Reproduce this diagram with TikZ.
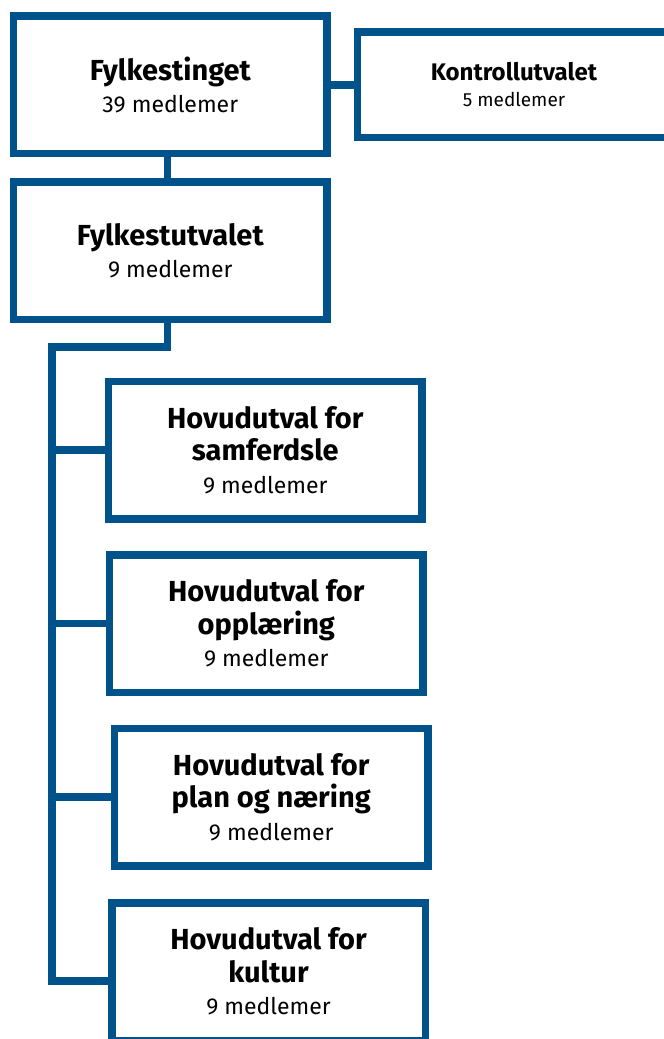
\documentclass[tikz,border=0pt]{standalone}
\usepackage{fontspec}
\setmainfont{Fira Sans}
\definecolor{fkblue}{RGB}{0,83,138}
\newcommand{\tittel}{\fontsize{29}{32.5}\selectfont\bfseries}
\newcommand{\medl}{\fontsize{23}{32.5}\selectfont\mdseries}
\tikzset{
  utvalbox/.style={draw=fkblue, line width=7.5pt, rectangle, minimum width=313.5pt, minimum height=137.5pt, inner sep=0pt, align=center, text=black, font=\tittel},
  linje/.style={draw=fkblue, line width=7.5pt},
}
\begin{document}
\begin{tikzpicture}[x=1pt, y=-1pt]
    \useasboundingbox (0,0) rectangle (664,1039);
    \clip (0,0) rectangle (664,1039);

    % --- fylkestinget og kontrollutvalet ---
    \node[utvalbox] (ting) at (170.3,84.8) {Fylkestinget\\\medl 39 medlemer};
    \node[utvalbox, minimum height=105.7pt, font=\fontsize{24}{26}\selectfont\bfseries] (kontroll) at (514,84.8)
        {Kontrollutvalet\\\fontsize{19}{26}\selectfont\mdseries 5 medlemer};

    % --- fylkesutvalet ---
    \node[utvalbox] (utval) at (170.3,250.8) {Fylkestutvalet\\\medl 9 medlemer};

    % --- hovudutvala ---
    \node[utvalbox] (samf) at (265.3,450) {Hovudutval for\\samferdsle\\\medl 9 medlemer};
    \node[utvalbox] (opl) at (266.3,623.5) {Hovudutval for\\opplæring\\\medl 9 medlemer};
    \node[utvalbox] (plan) at (271.2,797) {Hovudutval for\\plan og næring\\\medl 9 medlemer};
    \node[utvalbox] (kultur) at (268.5,971.5) {Hovudutval for\\kultur\\\medl 9 medlemer};

    % --- linjer ---
    \draw[linje] (ting) -- (kontroll);
    \draw[linje] ([xshift=-3pt]ting.south) -- ([xshift=-3pt]utval.north);

    \coordinate (trunk) at (52,347);
    \coordinate (trunkend) at (52,981);
    \draw[linje] ([xshift=-3pt]utval.south) |- (trunk) -- (trunkend) -- (trunkend -| kultur.west);
    \foreach \b in {samf, opl, plan} {
        \draw[linje] (\b.west) -- (\b.west -| trunk);
    }

\end{tikzpicture}
\end{document}
